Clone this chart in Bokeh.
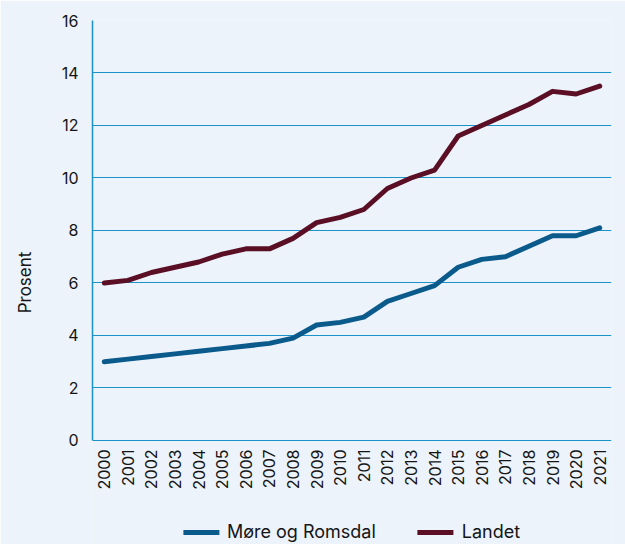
import math
from bokeh.plotting import figure
from bokeh.models import ColumnDataSource, FixedTicker, Legend, LegendItem, Range1d, FactorRange
from bokeh.core.properties import value
from bokeh.embed import file_html
from bokeh.resources import INLINE

years = [str(y) for y in range(2000, 2022)]
more_og_romsdal = [3.0, 3.1, 3.2, 3.3, 3.4, 3.5, 3.6, 3.7, 3.9, 4.4, 4.5, 4.7,
                   5.3, 5.6, 5.9, 6.6, 6.9, 7.0, 7.4, 7.8, 7.8, 8.1]
landet = [6.0, 6.1, 6.4, 6.6, 6.8, 7.1, 7.3, 7.3, 7.7, 8.3, 8.5, 8.8,
          9.6, 10.0, 10.3, 11.6, 12.0, 12.4, 12.8, 13.3, 13.2, 13.5]
y_ticks = [0, 2, 4, 6, 8, 10, 12, 14, 16]
series_names = ["Møre og Romsdal", "Landet"]

BG = "#ecf3fa"
GRID = "#1b93c9"
FONT = "Inter"
TXT = "#151515"

src = ColumnDataSource(dict(year=years, m=more_og_romsdal, l=landet))

# frame spans page y 20..544; 0..16 occupies the top 420 px, the rest holds year labels and legend
p = figure(width=625, height=544, x_range=FactorRange(*years), y_range=Range1d(-3.962, 16),
           x_axis_location=None,
           output_backend="svg", toolbar_location=None,
           background_fill_color=BG, border_fill_color=BG,
           min_border_left=92, min_border_right=14, min_border_top=20, min_border_bottom=0)
p.x_range.range_padding = 0
p.outline_line_color = None

r1 = p.line("year", "m", source=src, line_color="#0b5a8c", line_width=5, line_cap="round", line_join="round")
r2 = p.line("year", "l", source=src, line_color="#5a0f25", line_width=5, line_cap="round", line_join="round")

# year tick labels, drawn below the zero line
p.text(x="year", y=0, text="year", source=src, angle=math.pi / 2,
       text_align="right", text_baseline="middle", y_offset=9,
       text_font=value(FONT), text_font_size="16px", text_color=TXT)

p.xgrid.grid_line_color = None
p.ygrid.ticker = FixedTicker(ticks=y_ticks)
p.ygrid.grid_line_color = GRID
p.ygrid.grid_line_width = 1.2
p.yaxis.ticker = FixedTicker(ticks=y_ticks)
p.yaxis.bounds = (0, 16)
p.yaxis.axis_line_color = GRID
p.yaxis.axis_line_width = 1.5
p.yaxis.major_tick_line_color = None
p.yaxis.minor_tick_line_color = None
p.yaxis.major_tick_out = 0
p.yaxis.major_tick_in = 0
p.yaxis.minor_tick_out = 0
p.yaxis.minor_tick_in = 0
p.yaxis.major_label_text_font = FONT
p.yaxis.major_label_text_font_size = "16px"
p.yaxis.major_label_text_color = TXT
p.yaxis.major_label_standoff = 14
p.yaxis.axis_label = "Prosent"
p.yaxis.axis_label_text_font = FONT
p.yaxis.axis_label_text_font_style = "normal"
p.yaxis.axis_label_text_font_size = "17px"
p.yaxis.axis_label_text_color = TXT
p.yaxis.axis_label_standoff = 24

legend = Legend(items=[LegendItem(label=series_names[0], renderers=[r1]),
                       LegendItem(label=series_names[1], renderers=[r2])],
                orientation="horizontal", location="bottom_center",
                background_fill_alpha=0, border_line_color=None,
                label_text_font=FONT, label_text_font_size="18px", label_text_color=TXT,
                label_standoff=8,
                glyph_width=36, glyph_height=10, spacing=42, margin=2, padding=4)
p.add_layout(legend)

open("out.html", "w").write(file_html(p, INLINE))
